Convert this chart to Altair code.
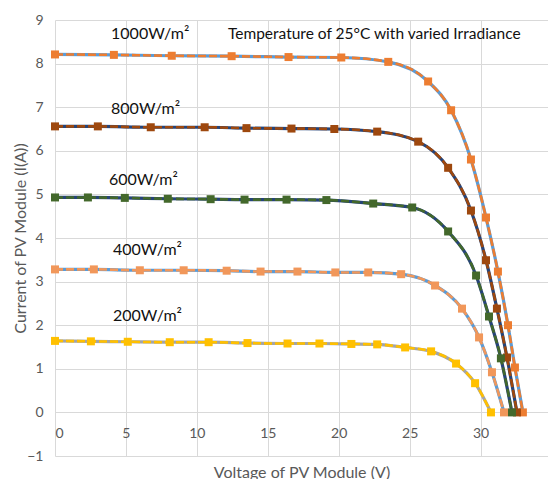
import altair as alt
import pandas as pd

# ---- data ----
series = ["1000W/m²", "800W/m²", "600W/m²", "400W/m²", "200W/m²"]

v1000 = [0, 4.15, 8.23, 12.45, 16.46, 20.18, 23.49, 26.30, 27.92, 29.32, 30.38, 31.22, 31.93, 32.42, 32.98]
i1000 = [8.21, 8.20, 8.18, 8.17, 8.15, 8.14, 8.04, 7.59, 6.93, 5.80, 4.47, 3.23, 2.00, 1.03, 0]

v800 = [0, 3.02, 6.75, 10.55, 13.50, 16.67, 19.69, 22.71, 25.60, 27.71, 29.32, 30.38, 31.15, 31.86, 32.56]
i800 = [6.56, 6.56, 6.54, 6.54, 6.52, 6.51, 6.50, 6.44, 6.21, 5.61, 4.63, 3.49, 2.38, 1.26, 0]

v600 = [0, 2.32, 4.92, 7.95, 10.97, 13.36, 16.32, 19.13, 22.43, 25.18, 27.71, 29.68, 30.59, 31.43, 32.21]
i600 = [4.93, 4.93, 4.92, 4.90, 4.89, 4.88, 4.88, 4.87, 4.79, 4.70, 4.15, 3.14, 2.20, 1.24, 0]

v400 = [0, 2.74, 5.98, 9.07, 12.10, 14.49, 17.09, 19.76, 22.08, 24.40, 26.79, 28.69, 29.89, 30.80, 31.65]
i400 = [3.28, 3.28, 3.26, 3.26, 3.25, 3.23, 3.23, 3.21, 3.21, 3.17, 2.91, 2.38, 1.72, 0.92, 0]

v200 = [0, 2.53, 5.13, 8.09, 10.83, 13.57, 16.39, 18.64, 20.89, 22.71, 24.68, 26.51, 28.27, 29.61, 30.73]
i200 = [1.64, 1.63, 1.62, 1.61, 1.61, 1.59, 1.58, 1.58, 1.57, 1.56, 1.49, 1.40, 1.12, 0.67, 0]

x_ticks = [0, 5, 10, 15, 20, 25, 30]
y_ticks = [-1, 0, 1, 2, 3, 4, 5, 6, 7, 8, 9]

chart_title = "Temperature of 25°C with varied Irradiance"
label_x = [3.95, 3.95, 3.8, 4.09, 4.09]
label_y = [8.69, 6.97, 5.34, 3.72, 2.2]
title_x = [12.19]
title_y = [8.67]

# ---- styles ----
marker_colors = ["#ED7D31", "#9E480E", "#43682B", "#F1975A", "#FFC000"]
under_colors = ["#5B9BD5", "#264478", "#264478", "#5B9BD5", "#A5A5A5"]
FONT = "Lato"

frames = []
for name, vs, cs in zip(series, [v1000, v800, v600, v400, v200], [i1000, i800, i600, i400, i200]):
    frames.append(pd.DataFrame({"series": name, "V": vs, "I": cs}))
df = pd.concat(frames, ignore_index=True)

labels = pd.DataFrame({"text": series, "x": label_x, "y": label_y})
tdf = pd.DataFrame({"text": [chart_title], "x": title_x, "y": title_y})

xscale = alt.Scale(domain=[0, 34.75], nice=False, zero=False)
yscale = alt.Scale(domain=[-1, 9], nice=False, zero=False)

xaxis = alt.Axis(values=x_ticks, title="Voltage of PV Module (V)", offset=-44,
                 labelPadding=14, titleY=60, titleBaseline="middle",
                 titleFontSize=16, titleFontWeight="normal")
yaxis = alt.Axis(values=y_ticks, title="Current of PV Module (I(A))",
                 labelPadding=12, titleX=-35, titleBaseline="middle", titleAlign="center",
                 titleFontSize=16, titleFontWeight="normal")

base = alt.Chart(df).encode(
    x=alt.X("V:Q", scale=xscale, axis=xaxis),
    y=alt.Y("I:Q", scale=yscale, axis=yaxis),
    detail="series:N",
)

under = base.mark_line(strokeWidth=3.2, interpolate="monotone").encode(
    color=alt.Color("series:N", scale=alt.Scale(domain=series, range=under_colors), legend=None)
)
dashed = base.mark_line(strokeWidth=2.6, strokeDash=[8, 3], interpolate="monotone").encode(
    color=alt.Color("series:N", scale=alt.Scale(domain=series, range=marker_colors), legend=None)
)
pts = base.mark_point(shape="square", filled=True, size=64, opacity=1).encode(
    color=alt.Color("series:N", scale=alt.Scale(domain=series, range=marker_colors), legend=None)
)

lab = alt.Chart(labels).mark_text(align="left", baseline="middle", font=FONT, fontSize=16,
                                  color="#111111").encode(
    x=alt.X("x:Q", scale=xscale), y=alt.Y("y:Q", scale=yscale), text="text:N")
ttl = alt.Chart(tdf).mark_text(align="left", baseline="middle", font=FONT, fontSize=15.5,
                               color="#111111").encode(
    x=alt.X("x:Q", scale=xscale), y=alt.Y("y:Q", scale=yscale), text="text:N")

chart = alt.layer(under, dashed, pts, lab, ttl).resolve_scale(color="independent").properties(
    width=493, height=436,
    autosize=alt.AutoSizeParams(type="none"),
    padding={"left": 55, "top": 20, "right": 0, "bottom": 23},
    background="white",
).configure_view(stroke=None).configure_axis(
    grid=True, gridColor="#d9d9d9", gridWidth=1, domain=False, ticks=False,
    labelColor="#595959", labelFont=FONT, labelFontSize=14,
    titleColor="#595959", titleFont=FONT,
)

chart.save("out.html", embed_options={"renderer": "svg", "actions": False})
